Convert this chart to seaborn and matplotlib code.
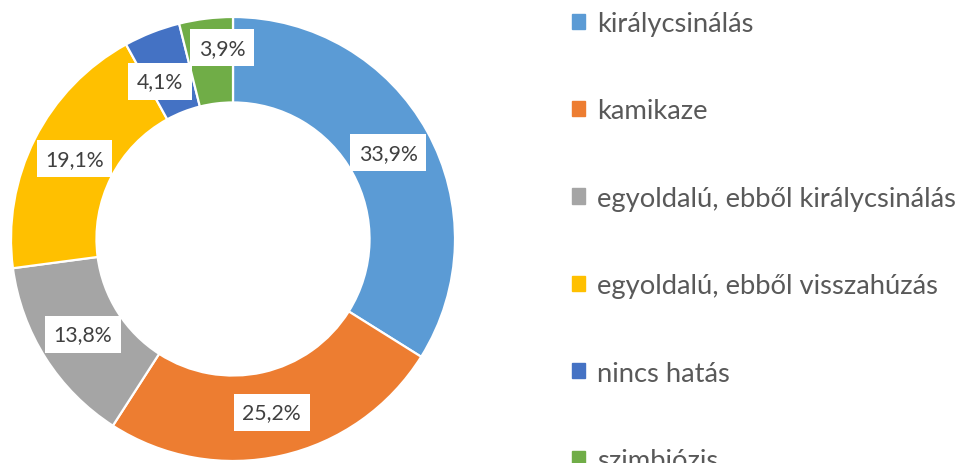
import numpy as np
import matplotlib.pyplot as plt
import matplotlib.patches as mpatches
import seaborn as sns

sns.set_theme(style="white")
plt.rcParams['font.family'] = ['Lato', 'DejaVu Sans']

# data
categories = ['királycsinálás', 'kamikaze', 'egyoldalú, ebből királycsinálás',
              'egyoldalú, ebből visszahúzás', 'nincs hatás', 'szimbiózis']
shares = [33.9, 25.2, 13.8, 19.1, 4.1, 3.9]
colors = ['#5B9BD5', '#ED7D31', '#A5A5A5', '#FFC000', '#4472C4', '#70AD47']
palette = sns.color_palette(colors)

W, H = 963, 464
fig = plt.figure(figsize=(W / 100, H / 100), dpi=100)

cx, cy, R = 233, 240, 222
ax = fig.add_axes([(cx - R) / W, (H - cy - R) / H, 2 * R / W, 2 * R / H])

wedges, _ = ax.pie(shares, colors=palette, startangle=90, counterclock=False,
                   radius=1, wedgeprops=dict(width=0.385, edgecolor='white', linewidth=1.6))
ax.set_xlim(-1, 1)
ax.set_ylim(-1, 1)
ax.set_aspect('equal')
ax.axis('off')

# label placement: mid ring, with small nudges for the two thin slices
nudge = {4: (114.8, 0.784), 5: (93.3, 0.862)}
for i, (w, v) in enumerate(zip(wedges, shares)):
    ang = (w.theta1 + w.theta2) / 2
    r = 0.8
    if i in nudge:
        ang, r = nudge[i]
    x, y = r * np.cos(np.radians(ang)), r * np.sin(np.radians(ang))
    ax.text(x, y, f"{v:.1f}%".replace('.', ','), ha='center', va='center',
            fontsize=15.3, color='#404040',
            bbox=dict(boxstyle='square,pad=0.4', fc='white', ec='none'))

handles = [mpatches.Rectangle((0, 0), 1, 1, color=c) for c in palette]
fig.legend(handles, categories, loc='upper left', bbox_to_anchor=(572 / W, 1 - 12 / H),
           frameon=False, fontsize=19.7, labelcolor='#595959',
           handlelength=0.48, handleheight=0.48, handletextpad=0.42,
           labelspacing=2.28, borderaxespad=0, borderpad=0)

fig.savefig('out.png', dpi=100)
